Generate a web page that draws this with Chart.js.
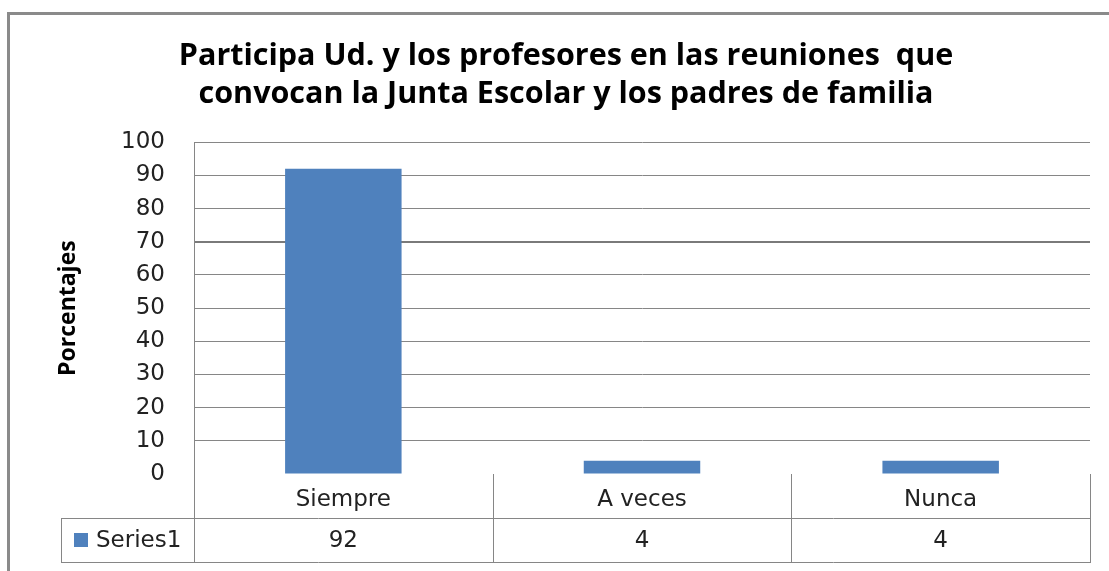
<!DOCTYPE html>
<html>
<head>
<meta charset="utf-8">
<script src="https://cdn.jsdelivr.net/npm/chart.js@4/dist/chart.umd.min.js"></script>
<style>
  html, body { margin: 0; padding: 0; background: #fff; }
  canvas { display: block; }
</style>
</head>
<body>
<canvas id="grafico" width="1109" height="571"></canvas>
<script>
// datos del gráfico
const categorias = ["Siempre", "A veces", "Nunca"];
const porcentajes = [92, 4, 4];
const nombreSerie = "Series1";
const titulo = ["Participa Ud. y los profesores en las reuniones  que", "convocan la Junta Escolar y los padres de familia"];
const tituloEje = "Porcentajes";
const yMax = 100;
const yPaso = 10;

const azul = "#4F81BD";
const gris = "#868686";
const fuenteTicks = { family: "DejaVu Sans", size: 23 };

// marco exterior (tipo Excel)
const marco = {
    id: "marco",
    beforeDraw(chart) {
        const ctx = chart.ctx;
        ctx.save();
        ctx.strokeStyle = "#8a8a8a";
        ctx.lineWidth = 3;
        ctx.beginPath();
        ctx.moveTo(8.5, chart.height);
        ctx.lineTo(8.5, 13.5);
        ctx.lineTo(chart.width, 13.5);
        ctx.stroke();
        ctx.restore();
    }
};

// tabla de datos bajo el eje x
const tablaDatos = {
    id: "tablaDatos",
    afterDraw(chart) {
        const ctx = chart.ctx;
        const a = chart.chartArea;
        const x = chart.scales.x;
        const filaAlto = 44;
        const izq = 61;
        const y1 = a.bottom + filaAlto;
        const y2 = y1 + filaAlto;
        const ancho = (a.right - a.left) / categorias.length;
        ctx.save();
        ctx.strokeStyle = gris;
        ctx.lineWidth = 1;
        ctx.beginPath();
        for (let i = 0; i <= categorias.length; i++) {
            const xx = Math.round(a.left + i * ancho) + 0.5;
            ctx.moveTo(xx, a.bottom);
            ctx.lineTo(xx, y2);
        }
        ctx.moveTo(izq + 0.5, y1);
        ctx.lineTo(izq + 0.5, y2);
        ctx.moveTo(izq, y1 + 0.5);
        ctx.lineTo(a.right + 1, y1 + 0.5);
        ctx.moveTo(izq, y2 + 0.5);
        ctx.lineTo(a.right + 1, y2 + 0.5);
        ctx.stroke();

        const yc = y1 + filaAlto / 2;
        ctx.fillStyle = azul;
        ctx.fillRect(74, yc - 7, 14, 14);
        ctx.fillStyle = "#222";
        ctx.font = fuenteTicks.size + "px '" + fuenteTicks.family + "'";
        ctx.textBaseline = "middle";
        ctx.textAlign = "left";
        ctx.fillText(nombreSerie, 96, yc + 1);
        ctx.textAlign = "center";
        porcentajes.forEach((v, i) => {
            ctx.fillText(String(v), x.getPixelForValue(i), yc + 1);
        });
        ctx.restore();
    }
};

new Chart(document.getElementById("grafico"), {
    type: "bar",
    data: {
        labels: categorias,
        datasets: [{
            label: nombreSerie,
            data: porcentajes,
            backgroundColor: azul,
            borderWidth: 0,
            barPercentage: 0.39,
            categoryPercentage: 1
        }]
    },
    options: {
        responsive: false,
        animation: false,
        devicePixelRatio: 1,
        layout: { padding: { left: 42, right: 19, top: 0, bottom: 0 } },
        plugins: {
            legend: { display: false },
            tooltip: { enabled: false },
            title: {
                display: true,
                text: titulo,
                color: "#000",
                font: { family: "Open Sans", size: 30.5, weight: "bold", lineHeight: 1.25 },
                padding: { top: 37, bottom: 29 }
            }
        },
        scales: {
            y: {
                min: 0,
                max: yMax,
                ticks: { stepSize: yPaso, color: "#222", font: fuenteTicks, padding: 29 },
                grid: {
                    drawTicks: false,
                    color: c => c.tick && c.tick.value === 0 ? "rgba(0,0,0,0)" : (c.tick && c.tick.value === 70 ? "#7a7a7a" : gris),
                    lineWidth: c => c.tick && c.tick.value === 70 ? 2 : 1
                },
                border: { display: true, color: gris },
                title: {
                    display: true,
                    text: tituloEje,
                    color: "#000",
                    font: { family: "Open Sans", size: 23, weight: "bold" },
                    padding: { top: 13, bottom: 0 }
                },
                afterFit: s => { s.width = 152; }
            },
            x: {
                ticks: { color: "#222", font: fuenteTicks, padding: 12 },
                grid: { display: false, drawTicks: false },
                border: { display: false },
                afterFit: s => { s.height = 97; }
            }
        }
    },
    plugins: [marco, tablaDatos]
});
</script>
</body>
</html>
